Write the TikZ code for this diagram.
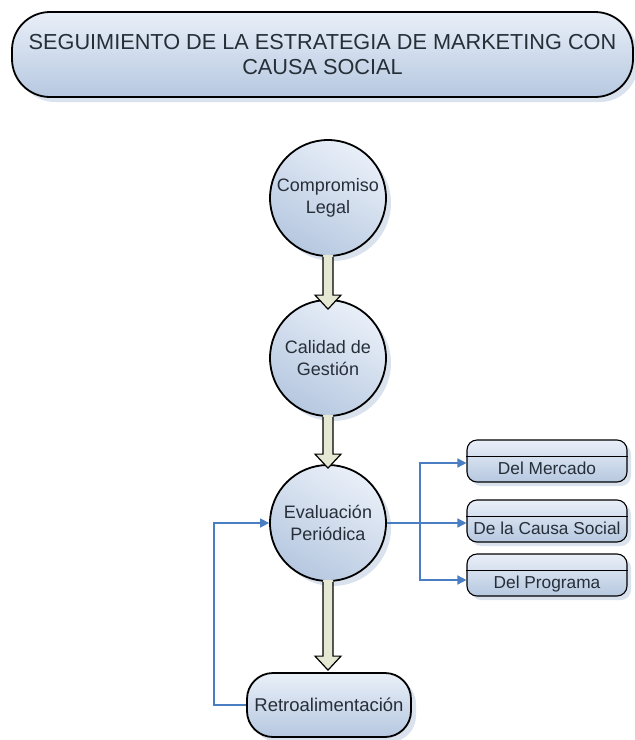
\documentclass[tikz,border=0pt]{standalone}
\usepackage{fontspec}
\setmainfont{Liberation Sans}
\usetikzlibrary{shadows,calc,arrows.meta}

\definecolor{shapeLight}{HTML}{E9EFF8}
\definecolor{shapeDark}{HTML}{B6C8E0}
\definecolor{shadowBlue}{HTML}{D6DFEB}
\definecolor{flowBlue}{HTML}{4A7EC2}
\definecolor{arrowFill}{HTML}{E5E9D3}
\definecolor{inkText}{HTML}{262E38}

\tikzset{
  x=1pt, y=-1pt,
  softshade/.style={top color=shapeLight, bottom color=shapeDark},
  tiltshade/.style={top color=shapeLight, bottom color=shapeDark, shading angle=-30},
  softshadow/.style={drop shadow={shadow xshift=5pt, shadow yshift=-5pt,
      fill=shadowBlue, opacity=0.9}},
  stage/.style={circle, draw=black, line width=1.8pt, minimum size=116pt,
      inner sep=0pt, align=center, text=inkText,
      font=\fontsize{18}{22}\selectfont, tiltshade, softshadow},
  banner/.style={rectangle, rounded corners=38pt, draw=black, line width=1.8pt,
      minimum width=621pt, minimum height=85pt, align=center, text=inkText,
      font=\fontsize{21.7}{25}\selectfont, softshade, softshadow},
  feedbackbox/.style={rectangle, rounded corners=26pt, draw=black, line width=1.8pt,
      minimum width=164pt, minimum height=64pt, text=inkText,
      font=\fontsize{18.5}{22}\selectfont, softshade, softshadow},
  areabox/.style={rectangle, rounded corners=10pt, draw=black, line width=1.1pt,
      minimum width=160pt, minimum height=42pt, inner sep=0pt,
      text height=27pt, text depth=0pt, text=inkText,
      font=\fontsize{17.3}{20}\selectfont, softshade,
      drop shadow={shadow xshift=4pt, shadow yshift=-4pt, fill=shadowBlue, opacity=0.9}},
  flow/.style={draw=flowBlue, line width=1.5pt},
  flowtip/.style={flow, -{Triangle[length=9pt,width=9pt]}},
  arrowline/.style={draw=black, line width=1.2pt, line join=miter},
}

% thick hollow arrow from the bottom of #1 to the top of #2, tip #3 inside #2
\newcommand\blockarrow[3]{%
  \fill[arrowFill] let \p1=(#1.south), \p2=([yshift=-#3]#2.north) in
    (\x1-5pt,\y1+2pt) -- (\x1-5pt,\y2+14pt) -- (\x1-13pt,\y2+14pt) -- (\x1,\y2)
    -- (\x1+13pt,\y2+14pt) -- (\x1+5pt,\y2+14pt) -- (\x1+5pt,\y1+2pt) -- cycle;
  \draw[arrowline] let \p1=(#1.south), \p2=([yshift=-#3]#2.north) in
    (\x1-5pt,\y1) -- (\x1-5pt,\y2+14pt) -- (\x1-13pt,\y2+14pt) -- (\x1,\y2)
    -- (\x1+13pt,\y2+14pt) -- (\x1+5pt,\y2+14pt) -- (\x1+5pt,\y1);
}

\begin{document}
\begin{tikzpicture}
\useasboundingbox (0,0) rectangle (635,740);

% title
\node[banner] (title) at (322.5,54.5)
  {SEGUIMIENTO DE LA ESTRATEGIA DE MARKETING CON\\CAUSA SOCIAL};

% main stages
\node[stage] (legal) at (328,198) {Compromiso\\Legal};
\node[stage] (gestion) at (328,358) {Calidad de\\Gestión};
\node[stage] (evaluacion) at (328,523) {Evaluación\\Periódica};
\node[feedbackbox] (retro) at (329,705) {Retroalimentación};

% evaluation areas
\node[areabox] (mercado) at (547,461) {Del Mercado};
\node[areabox] (causa) at (547,521) {De la Causa Social};
\node[areabox] (programa) at (547,575) {Del Programa};
\foreach \b in {mercado,causa,programa}
  \draw[line width=1.1pt] ($(\b.north west)+(0,17)$) -- ($(\b.north east)+(0,17)$);

% stage sequence
\blockarrow{legal}{gestion}{10pt}
\blockarrow{gestion}{evaluacion}{4pt}
\blockarrow{evaluacion}{retro}{-2pt}

% branches to the evaluation areas
\coordinate (split) at (420,523);
\draw[flow] (evaluacion.east) -- (split);
\draw[flowtip] (split) |- ([yshift=-2pt]mercado.west);
\draw[flowtip] (split) |- ([yshift=-2pt]causa.west);
\draw[flowtip] (split) |- ([yshift=-5pt]programa.west);

% feedback loop
\coordinate (loop) at (214,705);
\draw[flowtip] (retro.west) -- (loop) |- (evaluacion.west);
\end{tikzpicture}
\end{document}
